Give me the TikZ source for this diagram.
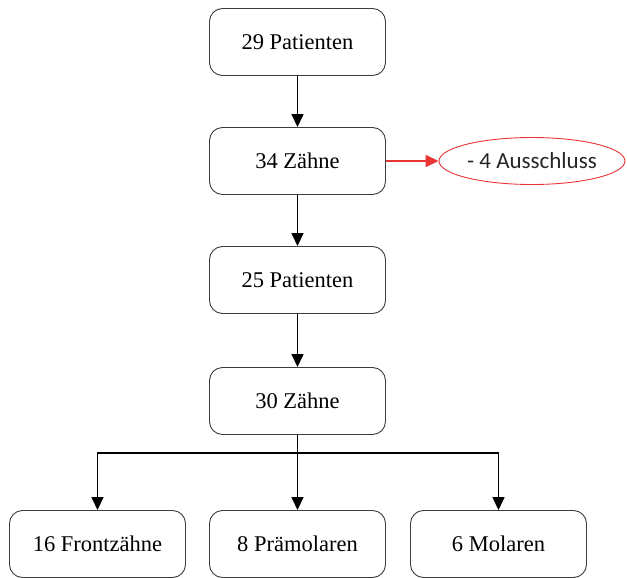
\documentclass[tikz,border=0pt]{standalone}
\usepackage{fontspec}
\setmainfont{Liberation Serif}
\newfontfamily\calib{Carlito}
\usetikzlibrary{arrows.meta,shapes.geometric}
\definecolor{redline}{RGB}{232,52,52}
\definecolor{boxline}{RGB}{60,60,60}
\begin{document}
\begin{tikzpicture}[x=1pt,y=-1pt,
  box/.style={draw=boxline, rounded corners=13pt, minimum width=176pt, minimum height=67pt, inner sep=0pt, font=\fontsize{22.5}{27}\selectfont, line width=0.9pt},
  arr/.style={line width=1.5pt, -{Triangle[length=13pt,width=12pt]}},
  conn/.style={line width=1.5pt},
  excl/.style={draw=redline, ellipse, minimum width=186pt, minimum height=47pt, inner sep=0pt, line width=0.9pt, font=\calib\fontsize{23}{27}\selectfont, text=black!85},
  redarr/.style={draw=redline, line width=1.5pt, -{Triangle[length=13pt,width=12pt]}}]
\useasboundingbox (0,0) rectangle (627,578);
\node[box] (b1) at (297.5,42) {29 Patienten};
\node[box] (b2) at (297.5,161) {34 Zähne};
\node[box] (b3) at (297.5,280) {25 Patienten};
\node[box] (b4) at (297.5,401) {30 Zähne};
\node[box] (f1) at (97.5,544) {16 Frontzähne};
\node[box] (f2) at (297.5,544) {8 Prämolaren};
\node[box] (f3) at (498.5,544) {6 Molaren};
\node[excl] (ex) at (532,161) {- 4 Ausschluss};
\coordinate (j) at (297.5,453);
\draw[arr] (b1) -- (b2);
\draw[arr] (b2) -- (b3);
\draw[arr] (b3) -- (b4);
\draw[conn] (b4.south) -- (j);
\draw[arr] (j) -| (f1.north);
\draw[arr] (j) -| (f3.north);
\draw[arr] (j) -- (f2.north);
\draw[redarr] (b2.east) -- (ex.west);
\end{tikzpicture}
\end{document}
